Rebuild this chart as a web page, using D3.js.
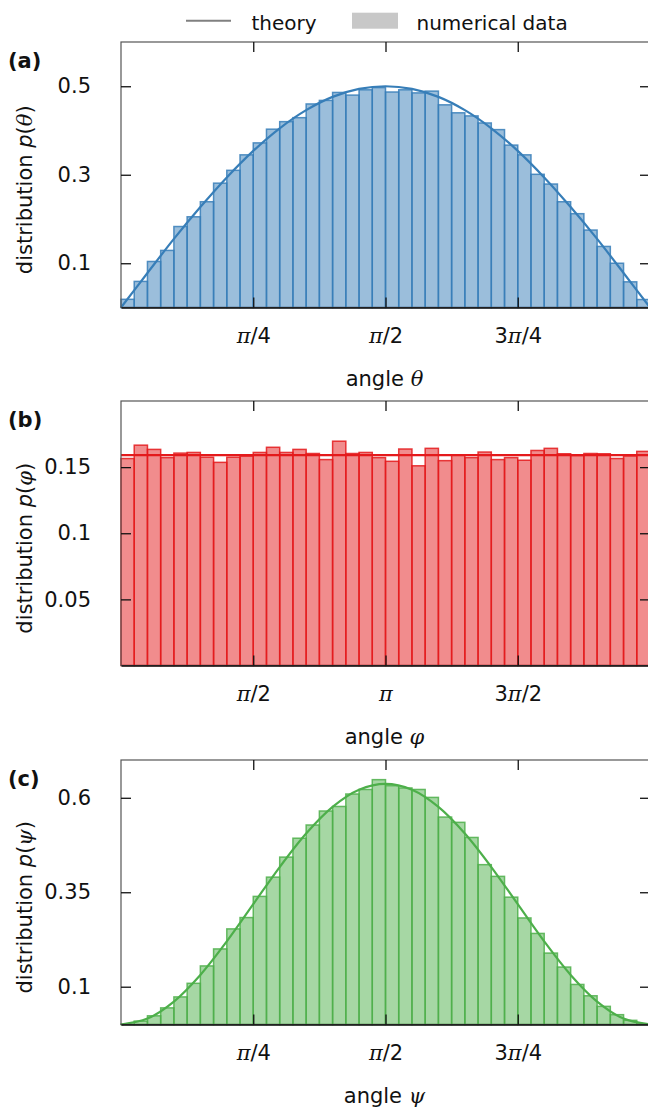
<!DOCTYPE html>
<html>
<head>
<meta charset="utf-8">
<script src="https://cdn.jsdelivr.net/npm/d3@7"></script>
<style>
  html, body { margin: 0; padding: 0; background: #fff; }
  svg { display: block; }
  text { font-family: "DejaVu Sans", sans-serif; fill: #111; }
</style>
</head>
<body>
<svg id="chart" width="648" height="1107"></svg>
<script>
// ---------------- data ----------------
const binCount = 40;

// panel (a): p(theta), theta in [0, pi]
const thetaHist = [0.0185, 0.059, 0.104, 0.129, 0.183, 0.205, 0.239, 0.281, 0.310, 0.345,
                   0.372, 0.403, 0.420, 0.429, 0.460, 0.468, 0.486, 0.480, 0.492, 0.497,
                   0.487, 0.492, 0.485, 0.489, 0.458, 0.440, 0.433, 0.417, 0.402, 0.367,
                   0.345, 0.301, 0.279, 0.239, 0.212, 0.175, 0.138, 0.100, 0.058, 0.018];
const thetaTheory = [0, 0.078, 0.155, 0.227, 0.294, 0.354, 0.405, 0.446, 0.476, 0.494, 0.5,
                     0.494, 0.476, 0.446, 0.405, 0.354, 0.294, 0.227, 0.155, 0.078, 0];

// panel (b): p(phi), phi in [0, 2pi]
const phiHist = [0.1565, 0.1666, 0.1634, 0.1572, 0.1606, 0.1611, 0.1575, 0.1536, 0.1575, 0.1583,
                 0.1611, 0.1650, 0.1611, 0.1634, 0.1603, 0.1557, 0.1696, 0.1603, 0.1611, 0.1572,
                 0.1544, 0.1637, 0.1510, 0.1642, 0.1549, 0.1593, 0.1572, 0.1614, 0.1557, 0.1572,
                 0.1552, 0.1626, 0.1642, 0.1601, 0.1588, 0.1603, 0.1601, 0.1565, 0.1585, 0.1619];
const phiTheory = [0.159, 0.159, 0.159, 0.159, 0.159, 0.159, 0.159, 0.159, 0.159, 0.159, 0.159,
                   0.159, 0.159, 0.159, 0.159, 0.159, 0.159, 0.159, 0.159, 0.159, 0.159];

// panel (c): p(psi), psi in [0, pi]
const psiHist = [0.001, 0.009, 0.023, 0.044, 0.073, 0.109, 0.155, 0.200, 0.253, 0.283,
                 0.339, 0.390, 0.443, 0.493, 0.528, 0.565, 0.577, 0.610, 0.622, 0.648,
                 0.632, 0.626, 0.622, 0.601, 0.549, 0.535, 0.495, 0.423, 0.392, 0.337,
                 0.282, 0.241, 0.189, 0.152, 0.106, 0.076, 0.048, 0.026, 0.011, 0.002];
const psiTheory = [0, 0.0156, 0.0608, 0.1312, 0.2199, 0.3183, 0.4167, 0.5054, 0.5758, 0.6210, 0.6366,
                   0.6210, 0.5758, 0.5054, 0.4167, 0.3183, 0.2199, 0.1312, 0.0608, 0.0156, 0];

// tick values / labels
const thetaXTicks = [Math.PI / 4, Math.PI / 2, 3 * Math.PI / 4];
const thetaXLabels = ["π/4", "π/2", "3π/4"];
const phiXTicks = [Math.PI / 2, Math.PI, 3 * Math.PI / 2];
const phiXLabels = ["π/2", "π", "3π/2"];
const thetaYTicks = [0.1, 0.3, 0.5];
const thetaYLabels = ["0.1", "0.3", "0.5"];
const phiYTicks = [0.05, 0.1, 0.15];
const phiYLabels = ["0.05", "0.1", "0.15"];
const psiYTicks = [0.1, 0.35, 0.6];
const psiYLabels = ["0.1", "0.35", "0.6"];

const colors = { blue: "#377eb8", red: "#e41a1c", green: "#4daf4a" };

// ---------------- drawing ----------------
const svg = d3.select("#chart");
const FS = 21;
const left = 121, right = 650;

// legend
const lg = svg.append("g");
lg.append("line").attr("x1", 186).attr("x2", 231).attr("y1", 20.7).attr("y2", 20.7)
  .attr("stroke", "#808080").attr("stroke-width", 2);
lg.append("text").attr("x", 251.5).attr("y", 29.5).attr("font-size", 20).text("theory");
lg.append("rect").attr("x", 352).attr("y", 12.7).attr("width", 46).attr("height", 16)
  .attr("fill", "#c8c8c8");
lg.append("text").attr("x", 416.5).attr("y", 29.5).attr("font-size", 20).text("numerical data");

function mathLabel(sel, str) {
  // split on pi, italic serif pi
  sel.text(null);
  const parts = str.split("π");
  parts.forEach((p, i) => {
    if (p.length) sel.append("tspan").text(p);
    if (i < parts.length - 1) {
      sel.append("tspan").attr("font-family", "'DejaVu Serif', serif")
        .attr("font-style", "italic").text("π");
    }
  });
}

function panel(opts) {
  const { top, bottom, xMax, yMax, hist, theory, color, xTicks, xLabels,
          yTicks, yLabels, letter, sym } = opts;
  const x = d3.scaleLinear().domain([0, xMax]).range([left, right]);
  const y = d3.scaleLinear().domain([0, yMax]).range([bottom, top]);
  const g = svg.append("g");

  // bars
  const bw = xMax / binCount;
  g.append("g").selectAll("rect").data(hist).join("rect")
    .attr("x", (d, i) => x(i * bw))
    .attr("width", (d, i) => x((i + 1) * bw) - x(i * bw))
    .attr("y", d => y(d))
    .attr("height", d => y(0) - y(d))
    .attr("fill", color).attr("fill-opacity", 0.5)
    .attr("stroke", color).attr("stroke-opacity", 0.85).attr("stroke-width", 1.5);

  // theory line
  const tstep = xMax / (theory.length - 1);
  const line = d3.line().x((d, i) => x(i * tstep)).y(d => y(d)).curve(d3.curveCatmullRom);
  g.append("path").datum(theory).attr("d", line)
    .attr("fill", "none").attr("stroke", color).attr("stroke-width", 2.2);

  // frame
  g.append("rect").attr("x", left).attr("y", top).attr("width", right - left)
    .attr("height", bottom - top).attr("fill", "none").attr("stroke", "#555").attr("stroke-width", 1.2);

  // axes
  const xb = g.append("g").attr("transform", `translate(0,${bottom})`)
    .call(d3.axisBottom(x).tickValues(xTicks).tickSize(-10).tickPadding(21).tickSizeOuter(0));
  xb.select(".domain").attr("stroke", "#111").attr("stroke-width", 1.4);
  xb.selectAll(".tick line").attr("stroke", "#111").attr("stroke-width", 1.3);
  xb.selectAll(".tick text").attr("font-size", FS).attr("font-family", "'DejaVu Sans', sans-serif")
    .attr("fill", "#111")
    .each(function (d, i) { mathLabel(d3.select(this), xLabels[i]); });

  const xt = g.append("g").attr("transform", `translate(0,${top})`)
    .call(d3.axisTop(x).tickValues(xTicks).tickSize(-10).tickFormat("").tickSizeOuter(0));
  xt.select(".domain").remove();
  xt.selectAll(".tick line").attr("stroke", "#111").attr("stroke-width", 1.3);

  const yl = g.append("g").attr("transform", `translate(${left},0)`)
    .call(d3.axisLeft(y).tickValues(yTicks).tickSize(-10).tickPadding(30).tickSizeOuter(0)
      .tickFormat((d, i) => yLabels[i]));
  yl.select(".domain").remove();
  yl.selectAll(".tick line").attr("stroke", "#111").attr("stroke-width", 1.3);
  yl.selectAll(".tick text").attr("font-size", FS).attr("font-family", "'DejaVu Sans', sans-serif")
    .attr("fill", "#111");

  const yr = g.append("g").attr("transform", `translate(${right},0)`)
    .call(d3.axisRight(y).tickValues(yTicks).tickSize(-10).tickFormat("").tickSizeOuter(0));
  yr.select(".domain").remove();
  yr.selectAll(".tick line").attr("stroke", "#111").attr("stroke-width", 1.3);

  // x title
  const xtT = g.append("text").attr("x", (left + right) / 2 - 1).attr("y", bottom + 78)
    .attr("text-anchor", "middle").attr("font-size", FS);
  xtT.append("tspan").text("angle ");
  xtT.append("tspan").attr("font-family", "'DejaVu Serif', serif").attr("font-style", "italic").text(sym);

  // y title
  const cy = (top + bottom) / 2 + 15;
  const ytT = g.append("text").attr("transform", `translate(32,${cy}) rotate(-90)`)
    .attr("text-anchor", "middle").attr("font-size", FS);
  ytT.append("tspan").text("distribution ");
  ytT.append("tspan").attr("font-style", "italic").text("p");
  ytT.append("tspan").text("(");
  ytT.append("tspan").attr("font-family", "'DejaVu Serif', serif").attr("font-style", "italic").text(sym);
  ytT.append("tspan").text(")");

  // panel letter
  g.append("text").attr("x", 8).attr("y", top + 26).attr("font-size", FS)
    .attr("font-weight", "bold").text(`(${letter})`);
}

panel({ top: 42, bottom: 307.5, xMax: Math.PI, yMax: 0.6, hist: thetaHist, theory: thetaTheory,
        color: colors.blue, xTicks: thetaXTicks, xLabels: thetaXLabels,
        yTicks: thetaYTicks, yLabels: thetaYLabels, letter: "a", sym: "θ" });
panel({ top: 401, bottom: 665.5, xMax: 2 * Math.PI, yMax: 0.2, hist: phiHist, theory: phiTheory,
        color: colors.red, xTicks: phiXTicks, xLabels: phiXLabels,
        yTicks: phiYTicks, yLabels: phiYLabels, letter: "b", sym: "φ" });
panel({ top: 760, bottom: 1024.5, xMax: Math.PI, yMax: 0.7, hist: psiHist, theory: psiTheory,
        color: colors.green, xTicks: thetaXTicks, xLabels: thetaXLabels,
        yTicks: psiYTicks, yLabels: psiYLabels, letter: "c", sym: "ψ" });
</script>
</body>
</html>
